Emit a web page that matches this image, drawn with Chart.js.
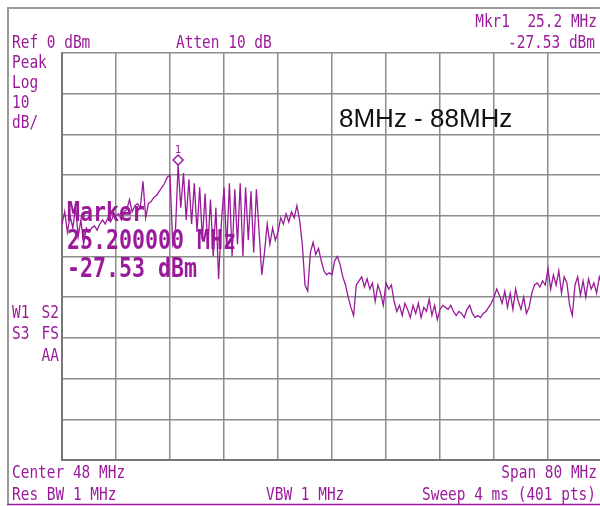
<!DOCTYPE html>
<html>
<head>
<meta charset="utf-8">
<script src="https://cdn.jsdelivr.net/npm/chart.js@4"></script>
<style>
  html, body { margin: 0; padding: 0; background: #fff; overflow: hidden; }
  #wrap { width: 604px; height: 506px; }
</style>
</head>
<body>
<div id="wrap"><canvas id="saChart" width="604" height="506"></canvas></div>
<script>
// sweep settings
const startMHz = 8;
const stopMHz = 88;
const stepMHz = 0.4;
const refLevel = 0;
const bottomLevel = -100;
const markerMHz = 25.2;
const markerDbm = -27.53;

// trace in dBm, one value every 0.4 MHz from 8 to 88 MHz
const traceDbm = [
  -42, -39, -44, -40, -43, -38, -45, -41, -47, -43,         // 8.0 - 11.6
  -44, -43, -42.5, -43.5, -42, -41, -42, -40.5, -41.5, -40, // 12.0 - 15.6
  -40, -39.5, -41, -39, -38.5, -36, -39, -37.5, -37, -38,   // 16.0 - 19.6
  -31.5, -40.5, -37, -36.5, -35.5, -35, -34, -33, -32, -30.5, // 20.0 - 23.6
  -30, -47, -44, -27.53, -38, -29.5, -41, -31, -42, -32,    // 24.0 - 27.6
  -44, -33, -46, -34.5, -48, -36, -50, -38, -55.5, -42,     // 28.0 - 31.6
  -33, -48, -32, -50, -33.5, -47, -32, -50, -33, -46,       // 32.0 - 35.6
  -34, -49, -33.5, -44, -54.5, -49, -42, -47, -43, -46,     // 36.0 - 39.6
  -44, -40.5, -42, -39.5, -41.5, -39, -40.5, -37.5, -41, -47, // 40.0 - 43.6
  -57, -58.5, -49, -46.5, -49.5, -48, -51, -53.5, -54.5, -54, // 44.0 - 47.6
  -54.5, -51, -50, -52, -55, -57, -60, -62.5, -64.5, -57,   // 48.0 - 51.6
  -56, -55, -57.5, -55.5, -58, -56.5, -61, -57, -59, -62,   // 52.0 - 55.6
  -56.5, -58, -57, -61, -63.5, -62, -64.5, -61.5, -63, -65, // 56.0 - 59.6
  -62, -64, -61.5, -65, -62.5, -63.5, -60.5, -64.5, -62, -65.5, // 60.0 - 63.6
  -63, -62, -62.5, -63, -62, -63.5, -64.5, -63.5, -64, -65, // 64.0 - 67.6
  -63, -62, -64, -65, -64.5, -65, -64, -63.5, -62.5, -61.5, // 68.0 - 71.6
  -60, -58, -59.5, -61.5, -58.5, -62.5, -59, -63, -58, -61, // 72.0 - 75.6
  -63, -60, -64, -62.5, -59, -57, -56.5, -57.5, -56, -57,   // 76.0 - 79.6
  -53, -58, -54.5, -57, -53.5, -59, -55, -56.5, -62, -64.5, // 80.0 - 83.6
  -57, -55, -59.5, -56, -60, -55.5, -58, -56.5, -59, -55,   // 84.0 - 87.6
  -57                                                       // 88.0
];

// annotation texts on the analyzer screen
const leftTexts = ['Peak', 'Log', '10', 'dB/'];
const statusTexts = ['W1', 'S2', 'S3', 'FS', 'AA'];
const markerTexts = ['Marker', '25.200000 MHz', '-27.53 dBm'];
const titleText = '8MHz - 88MHz';

const purple = '#9a1a9a';
const gridGray = '#8c8c8c';

let points = traceDbm.map(function(v, i){
  return {x: startMHz + i * stepMHz, y: v};
});

function txt(ctx, s, x, y, align, big){
  ctx.save();
  ctx.fillStyle = purple;
  ctx.font = big ? 'bold 27px "DejaVu Sans Mono"' : '17px "DejaVu Sans Mono"';
  ctx.textBaseline = 'alphabetic';
  ctx.textAlign = align || 'left';
  ctx.translate(x, y);
  ctx.scale(big ? 0.8 : 0.85, 1);
  ctx.fillText(s, 0, 0);
  ctx.restore();
}

//screenFrame : outer frame lines and all the analyzer labels
const screenFrame = {
  id: 'screenFrame',
  beforeDraw(chart){
    const ctx = chart.ctx;
    ctx.save();
    ctx.fillStyle = '#fff';
    ctx.fillRect(0, 0, chart.width, chart.height);
    ctx.strokeStyle = '#9a9a9a';
    ctx.lineWidth = 2;
    ctx.beginPath();
    ctx.moveTo(8, 505); ctx.lineTo(8, 8); ctx.lineTo(604, 8);
    ctx.stroke();
    ctx.strokeStyle = purple;
    ctx.lineWidth = 1.5;
    ctx.beginPath();
    ctx.moveTo(7, 504.5); ctx.lineTo(604, 504.5);
    ctx.stroke();
    ctx.restore();
  },
  afterDatasetsDraw(chart){
    const ctx = chart.ctx;
    const xs = chart.scales.x, ys = chart.scales.y;

    txt(ctx, 'Ref 0 dBm', 12, 48);
    txt(ctx, 'Atten 10 dB', 176, 48);
    txt(ctx, 'Mkr1  25.2 MHz', 597, 27, 'right');
    txt(ctx, '-27.53 dBm', 595, 48, 'right');
    leftTexts.forEach(function(s, i){ txt(ctx, s, 12, 68 + i * 20); });
    txt(ctx, statusTexts[0], 12, 318);
    txt(ctx, statusTexts[1], 59, 318, 'right');
    txt(ctx, statusTexts[2], 12, 339);
    txt(ctx, statusTexts[3], 59, 339, 'right');
    txt(ctx, statusTexts[4], 59, 361, 'right');
    txt(ctx, 'Center 48 MHz', 12, 478);
    txt(ctx, 'Res BW 1 MHz', 12, 500);
    txt(ctx, 'VBW 1 MHz', 266, 500);
    txt(ctx, 'Span 80 MHz', 597, 478, 'right');
    txt(ctx, 'Sweep 4 ms (401 pts)', 596, 500, 'right');

    // marker diamond just above the peak
    const mx = xs.getPixelForValue(markerMHz);
    const my = ys.getPixelForValue(markerDbm) - 5;
    ctx.save();
    ctx.strokeStyle = purple;
    ctx.lineWidth = 1.5;
    ctx.beginPath();
    ctx.moveTo(mx, my - 5); ctx.lineTo(mx + 5, my); ctx.lineTo(mx, my + 5); ctx.lineTo(mx - 5, my);
    ctx.closePath();
    ctx.stroke();
    ctx.fillStyle = purple;
    ctx.font = '10px "DejaVu Sans Mono"';
    ctx.textAlign = 'center';
    ctx.fillText('1', mx, my - 7);
    ctx.restore();

    // big marker readout over the trace
    markerTexts.forEach(function(s, i){ txt(ctx, s, 67, 221 + i * 28, 'left', true); });

    ctx.save();
    ctx.fillStyle = '#111';
    ctx.font = '26px "Liberation Sans"';
    ctx.fillText(titleText, 339, 127);
    ctx.restore();
  }
};

const ctx = document.getElementById('saChart');
let saChart = new Chart(ctx, {
  type: 'line',
  data: {
    datasets: [{
      data: points,
      borderColor: purple,
      borderWidth: 1.3,
      pointRadius: 0,
      tension: 0,
      fill: false
    }]
  },
  options: {
    responsive: false,
    animation: false,
    layout: { padding: { left: 62, top: 53, right: 2, bottom: 46 } },
    plugins: { legend: { display: false }, tooltip: { enabled: false } },
    scales: {
      x: {
        type: 'linear', min: startMHz, max: stopMHz,
        ticks: { display: false, stepSize: 8 },
        grid: { color: gridGray, lineWidth: 1.5, drawTicks: false },
        border: { color: '#777', width: 2 }
      },
      y: {
        min: bottomLevel, max: refLevel,
        ticks: { display: false, stepSize: 10 },
        grid: { color: gridGray, lineWidth: 1.5, drawTicks: false },
        border: { color: '#777', width: 2 }
      }
    }
  },
  plugins: [screenFrame]
});
</script>
</body>
</html>
